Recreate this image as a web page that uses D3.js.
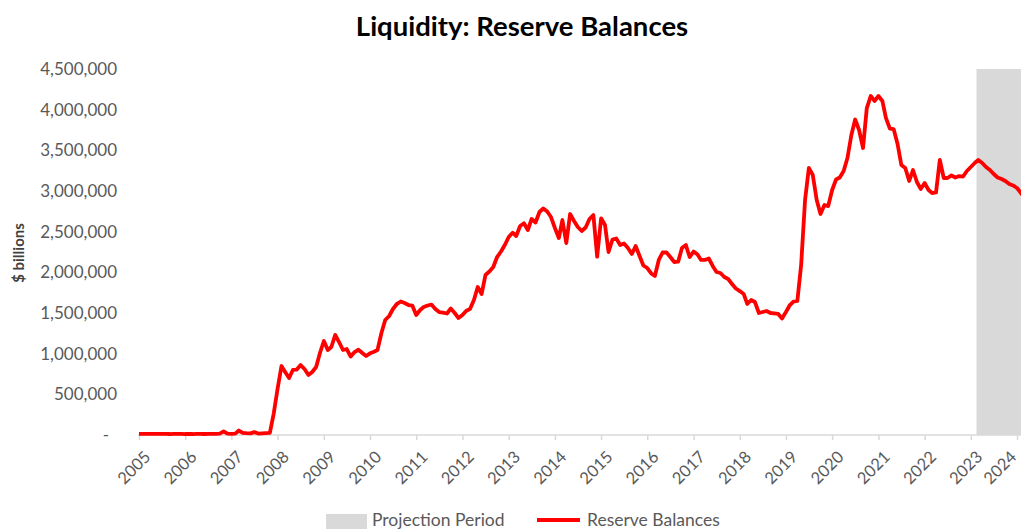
<!DOCTYPE html>
<html>
<head>
<meta charset="utf-8">
<script src="https://cdn.jsdelivr.net/npm/d3@7"></script>
<style>
  html, body { margin: 0; padding: 0; background: #fff; }
  svg { display: block; font-family: Lato, "Open Sans", sans-serif; }
</style>
</head>
<body>
<svg id="chart" width="1021" height="531"></svg>
<script>
// Reserve balances, monthly, $ (millions shown as "$ billions" label on the axis)
const startMonth = "2005-01";
const reserveValues = [
  // 2005
  15000, 14000, 13000, 15000, 14000, 13000, 14000, 13000, 12000, 14000, 13000, 15000,
  // 2006
  12000, 13000, 12000, 14000, 13000, 12000, 13000, 14000, 15000, 18000, 45000, 16000,
  // 2007
  15000, 17000, 55000, 25000, 22000, 20000, 35000, 18000, 20000, 22000, 25000, 258000,
  // 2008
  566000, 848000, 775000, 700000, 800000, 805000, 860000, 811000, 738000, 775000, 836000, 1008000,
  // 2009
  1156000, 1045000, 1082000, 1230000, 1143000, 1045000, 1057000, 965000, 1020000, 1050000, 1008000, 971000,
  // 2010
  1004000, 1024000, 1045000, 1254000, 1414000, 1463000, 1549000, 1611000, 1641000, 1623000, 1598000, 1592000,
  // 2011
  1475000, 1537000, 1574000, 1592000, 1604000, 1549000, 1512000, 1504000, 1494000, 1555000, 1500000, 1438000,
  // 2012
  1475000, 1528000, 1549000, 1660000, 1820000, 1734000, 1967000, 2010000, 2066000, 2188000, 2256000, 2336000,
  // 2013
  2434000, 2487000, 2447000, 2570000, 2603000, 2520000, 2656000, 2613000, 2742000, 2785000, 2748000, 2680000,
  // 2014
  2545000, 2422000, 2643000, 2360000, 2717000, 2631000, 2557000, 2508000, 2551000, 2656000, 2705000, 2192000,
  // 2015
  2664000, 2582000, 2250000, 2404000, 2416000, 2336000, 2354000, 2299000, 2225000, 2324000, 2201000, 2084000,
  // 2016
  2053000, 1986000, 1955000, 2152000, 2244000, 2244000, 2188000, 2127000, 2131000, 2299000, 2336000, 2188000,
  // 2017
  2256000, 2219000, 2152000, 2152000, 2170000, 2078000, 2004000, 1992000, 1943000, 1918000, 1857000, 1801000,
  // 2018
  1770000, 1734000, 1611000, 1660000, 1635000, 1500000, 1512000, 1525000, 1500000, 1496000, 1488000, 1432000,
  // 2019
  1512000, 1598000, 1641000, 1648000, 2090000, 2889000, 3283000, 3197000, 2889000, 2717000, 2828000, 2815000,
  // 2020
  3012000, 3141000, 3166000, 3246000, 3406000, 3689000, 3879000, 3750000, 3529000, 4020000, 4168000, 4107000,
  // 2021
  4168000, 4107000, 3898000, 3768000, 3762000, 3578000, 3320000, 3283000, 3123000, 3258000, 3111000, 3025000,
  // 2022
  3098000, 3012000, 2975000, 2982000, 3381000, 3160000, 3160000, 3191000, 3166000, 3184000, 3178000, 3246000,
  // 2023
  3295000, 3344000, 3381000, 3344000, 3295000, 3258000, 3209000, 3166000, 3148000, 3123000, 3086000, 3068000,
  // 2024
  3037000, 2975000, 2914000
];

// Projection window
const projectionStart = "2023-02-15";
const projectionEnd = "2024-12-31";

// Axis ticks
const yTicks = [0, 500000, 1000000, 1500000, 2000000, 2500000, 3000000, 3500000, 4000000, 4500000];
const yearTicks = d3.range(2005, 2025);

const titleText = "Liquidity: Reserve Balances";
const yAxisTitle = "$ billions";
const legendItems = ["Projection Period", "Reserve Balances"];

const parseMonth = d3.timeParse("%Y-%m");
const parseDay = d3.timeParse("%Y-%m-%d");
const t0 = parseMonth(startMonth);
const series = reserveValues.map((v, i) => ({ date: d3.timeMonth.offset(t0, i), value: v }));

const svg = d3.select("#chart");

const x = d3.scaleTime()
  .domain([new Date(2005, 0, 1), new Date(2024, 0, 1)])
  .range([139, 1017]);
const y = d3.scaleLinear()
  .domain([0, 4500000])
  .range([435, 69]);

const plotRight = 1040;

// Projection period shading
svg.append("rect")
  .attr("x", x(parseDay(projectionStart)))
  .attr("y", y(4500000))
  .attr("width", x(parseDay(projectionEnd)) - x(parseDay(projectionStart)))
  .attr("height", y(0) - y(4500000))
  .attr("fill", "#d9d9d9");

// Title
svg.append("text")
  .attr("x", 522)
  .attr("y", 36)
  .attr("text-anchor", "middle")
  .attr("font-size", 27.5)
  .attr("font-weight", 700)
  .attr("fill", "#000")
  .text(titleText);

// Y axis labels
const fmt = d3.format(",");
const yAxis = d3.axisLeft(y)
  .tickValues(yTicks)
  .tickSize(0)
  .tickPadding(0)
  .tickFormat(d => d === 0 ? "-" : fmt(d));
const yg = svg.append("g").attr("transform", "translate(117,0)").call(yAxis);
yg.select(".domain").remove();
yg.selectAll("text")
  .attr("font-family", "Lato, sans-serif")
  .attr("font-size", 17)
  .attr("fill", "#595959")
  .attr("dx", d => d === 0 ? -8 : 0);

// Y axis title
svg.append("text")
  .attr("transform", "translate(24,253) rotate(-90)")
  .attr("text-anchor", "middle")
  .attr("font-size", 15)
  .attr("font-weight", 700)
  .attr("fill", "#404040")
  .text(yAxisTitle);

// X axis
const xAxis = d3.axisBottom(x)
  .tickValues(yearTicks.map(yr => new Date(yr, 0, 1)))
  .tickSize(5)
  .tickSizeOuter(0)
  .tickFormat(d3.timeFormat("%Y"));
const xg = svg.append("g").attr("transform", `translate(0,${y(0)})`).call(xAxis);
xg.select(".domain")
  .attr("d", `M138,0H${plotRight}`)
  .attr("stroke", "#d9d9d9")
  .attr("stroke-width", 1.5);
xg.selectAll(".tick line").attr("stroke", "#d9d9d9").attr("stroke-width", 1.5);
const lastYear = yearTicks[yearTicks.length - 1];
xg.selectAll(".tick text")
  .attr("font-family", "Lato, sans-serif")
  .attr("font-size", 16.5)
  .attr("fill", "#595959")
  .attr("text-anchor", "end")
  .attr("y", 0)
  .attr("dy", "0.35em")
  // keep the final label inside the frame
  .attr("transform", d => d.getFullYear() === lastYear
    ? "translate(-4,19) rotate(-45)"
    : "translate(8,19) rotate(-45)");

// Reserve balances line
const line = d3.line()
  .x(d => x(d.date))
  .y(d => y(d.value));
svg.append("path")
  .datum(series)
  .attr("fill", "none")
  .attr("stroke", "#ff0000")
  .attr("stroke-width", 3.8)
  .attr("stroke-linejoin", "round")
  .attr("d", line);

// Legend
const lg = svg.append("g");
lg.append("rect")
  .attr("x", 326).attr("y", 514)
  .attr("width", 41).attr("height", 15)
  .attr("fill", "#d9d9d9");
lg.append("text")
  .attr("x", 372).attr("y", 526)
  .attr("font-size", 17.5)
  .attr("fill", "#595959")
  .text(legendItems[0]);
lg.append("line")
  .attr("x1", 537).attr("x2", 580)
  .attr("y1", 520).attr("y2", 520)
  .attr("stroke", "#ff0000")
  .attr("stroke-width", 4);
lg.append("text")
  .attr("x", 587).attr("y", 526)
  .attr("font-size", 17.5)
  .attr("fill", "#595959")
  .text(legendItems[1]);
</script>
</body>
</html>
